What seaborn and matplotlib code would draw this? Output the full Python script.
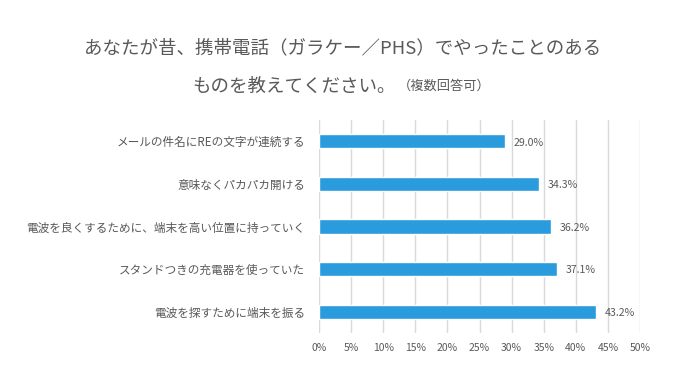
import matplotlib
matplotlib.use("Agg")
import matplotlib.pyplot as plt
import seaborn as sns
import pandas as pd

categories = [
    "メールの件名にREの文字が連続する",
    "意味なくパカパカ開ける",
    "電波を良くするために、端末を高い位置に持っていく",
    "スタンドつきの充電器を使っていた",
    "電波を探すために端末を振る",
]
values = [29.0, 34.3, 36.2, 37.1, 43.2]
xticks = [0, 5, 10, 15, 20, 25, 30, 35, 40, 45, 50]
xtick_labels = [f"{t}%" for t in xticks]

sns.set_theme(style="white")
plt.rcParams['font.family'] = ['Noto Sans CJK JP', 'DejaVu Sans']

TEXT = "#595959"
BAR = "#2A9BDC"
GRID = "#D9D9D9"

df = pd.DataFrame({"cat": categories, "val": values})

fig = plt.figure(figsize=(6.84, 3.86), dpi=100)
ax = fig.add_axes([319/684, 1-333/386, (640-319)/684, (333-120)/386])

sns.barplot(data=df, y="cat", x="val", orient="h", color=BAR, width=0.33,
            saturation=1, ax=ax, zorder=3)

ax.set_xlim(0, 50)
ax.set_xticks(xticks)
ax.set_xticklabels(xtick_labels, fontsize=7.5, color=TEXT)
ax.tick_params(axis='x', length=0, pad=7)
ax.tick_params(axis='y', length=0, pad=10, labelsize=8.4, labelcolor=TEXT)
ax.set_xlabel("")
ax.set_ylabel("")
ax.grid(axis='x', color=GRID, linewidth=1.0, zorder=0)
for s in ["top", "right", "bottom", "left"]:
    ax.spines[s].set_visible(False)

for i, v in enumerate(values):
    ax.annotate(f"{v:.1f}%", xy=(v, i), xytext=(6, -1), textcoords="offset points",
                ha="left", va="center", fontsize=7.6, color=TEXT)

fig.text(343/684, 1-48/386, "あなたが昔、携帯電話（ガラケー／PHS）でやったことのある",
         ha="center", va="center", fontsize=13.3, color=TEXT)
fig.text(396/684, 1-87/386, "ものを教えてください。", ha="right", va="center",
         fontsize=13.3, color=TEXT)
fig.text(398/684, 1-86/386, "（複数回答可）", ha="left", va="center",
         fontsize=9.5, color=TEXT)

fig.savefig("out.png", dpi=100)
